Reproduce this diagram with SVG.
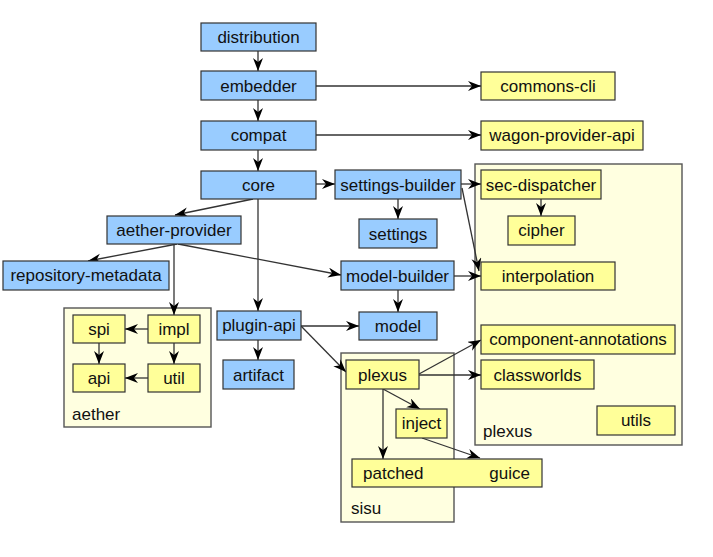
<svg xmlns="http://www.w3.org/2000/svg" width="713" height="557" viewBox="0 0 713 557">
<style>
text{font-family:"Liberation Sans",Arial,sans-serif;font-size:17px;fill:#111}
.c{text-anchor:middle}
.b rect{fill:#99ccff;stroke:#333;stroke-width:1.2}
.y rect{fill:#ffff99;stroke:#333;stroke-width:1.2}
.grp rect{fill:#ffffe0;stroke:#555;stroke-width:1.4}
#edges line{stroke:#333;stroke-width:1.3;marker-end:url(#ah)}
</style>
<defs>
<marker id="ah" markerUnits="userSpaceOnUse" markerWidth="14" markerHeight="11" refX="13" refY="5" orient="auto">
<path d="M0,0 L13,5 L0,10 L4,5 z" fill="#000"/>
</marker>
</defs>
<rect width="713" height="557" fill="#fff"/>
<g id="aether" class="grp"><rect x="64" y="308" width="147" height="119"/><text x="72" y="420">aether</text></g>
<g id="plexus-group" class="grp"><rect x="475" y="164" width="207" height="281"/><text x="483" y="437">plexus</text></g>
<g id="sisu" class="grp"><rect x="341" y="353" width="113" height="169"/><text x="351" y="514">sisu</text></g>
<g id="edges">
<line x1="258" y1="51" x2="258" y2="71"/>
<line x1="258" y1="100" x2="258" y2="121"/>
<line x1="258" y1="150" x2="258" y2="171"/>
<line x1="316" y1="86" x2="481" y2="86"/>
<line x1="316" y1="135" x2="481" y2="135"/>
<line x1="316" y1="184" x2="335" y2="184"/>
<line x1="253" y1="199" x2="175" y2="215"/>
<line x1="258" y1="199" x2="258" y2="311"/>
<line x1="177" y1="244" x2="88" y2="261"/>
<line x1="174" y1="244" x2="174" y2="315"/>
<line x1="178" y1="244" x2="341" y2="275"/>
<line x1="398" y1="199" x2="398" y2="219"/>
<line x1="461" y1="184" x2="481" y2="184"/>
<line x1="462" y1="188" x2="479" y2="271"/>
<line x1="541" y1="199" x2="541" y2="216"/>
<line x1="454" y1="276" x2="481" y2="276"/>
<line x1="398" y1="290" x2="398" y2="312"/>
<line x1="301" y1="326" x2="359" y2="326"/>
<line x1="301" y1="326" x2="346" y2="372"/>
<line x1="258" y1="340" x2="258" y2="360"/>
<line x1="148" y1="329" x2="125" y2="329"/>
<line x1="174" y1="343" x2="174" y2="364"/>
<line x1="99" y1="343" x2="99" y2="364"/>
<line x1="148" y1="378" x2="125" y2="378"/>
<line x1="419" y1="374" x2="481" y2="340"/>
<line x1="419" y1="375" x2="481" y2="375"/>
<line x1="383" y1="389" x2="420" y2="409"/>
<line x1="383" y1="389" x2="383" y2="459"/>
<line x1="422" y1="438" x2="480" y2="458"/>
</g>
<g id="distribution" class="b"><rect x="201" y="23" width="115" height="28"/><text class="c" x="258.5" y="43">distribution</text></g>
<g id="embedder" class="b"><rect x="201" y="71" width="115" height="29"/><text class="c" x="258.5" y="92">embedder</text></g>
<g id="compat" class="b"><rect x="201" y="121" width="115" height="29"/><text class="c" x="258.5" y="141">compat</text></g>
<g id="core" class="b"><rect x="201" y="171" width="115" height="28"/><text class="c" x="258.5" y="191">core</text></g>
<g id="commons-cli" class="y"><rect x="481" y="72" width="134" height="28"/><text class="c" x="548" y="92">commons-cli</text></g>
<g id="wagon-provider-api" class="y"><rect x="481" y="121" width="162" height="29"/><text class="c" x="562" y="141">wagon-provider-api</text></g>
<g id="settings-builder" class="b"><rect x="335" y="170" width="126" height="29"/><text class="c" x="398" y="191">settings-builder</text></g>
<g id="sec-dispatcher" class="y"><rect x="481" y="170" width="120" height="29"/><text class="c" x="541" y="191">sec-dispatcher</text></g>
<g id="cipher" class="y"><rect x="508" y="216" width="67" height="29"/><text class="c" x="541.5" y="236">cipher</text></g>
<g id="settings" class="b"><rect x="359" y="219" width="78" height="29"/><text class="c" x="398" y="240">settings</text></g>
<g id="aether-provider" class="b"><rect x="107" y="216" width="134" height="28"/><text class="c" x="174" y="236">aether-provider</text></g>
<g id="repository-metadata" class="b"><rect x="3" y="261" width="166" height="29"/><text class="c" x="86" y="281">repository-metadata</text></g>
<g id="model-builder" class="b"><rect x="341" y="261" width="113" height="29"/><text class="c" x="397.5" y="282">model-builder</text></g>
<g id="interpolation" class="y"><rect x="481" y="262" width="134" height="28"/><text class="c" x="548" y="282">interpolation</text></g>
<g id="spi" class="y"><rect x="73" y="315" width="52" height="28"/><text class="c" x="99" y="335">spi</text></g>
<g id="impl" class="y"><rect x="148" y="315" width="52" height="28"/><text class="c" x="174" y="335">impl</text></g>
<g id="api" class="y"><rect x="73" y="364" width="52" height="28"/><text class="c" x="99" y="384">api</text></g>
<g id="util" class="y"><rect x="148" y="364" width="52" height="28"/><text class="c" x="174" y="384">util</text></g>
<g id="plugin-api" class="b"><rect x="217" y="311" width="84" height="29"/><text class="c" x="259" y="331">plugin-api</text></g>
<g id="artifact" class="b"><rect x="223" y="360" width="71" height="29"/><text class="c" x="258.5" y="381">artifact</text></g>
<g id="model" class="b"><rect x="359" y="312" width="78" height="28"/><text class="c" x="398" y="332">model</text></g>
<g id="component-annotations" class="y"><rect x="481" y="325" width="194" height="29"/><text class="c" x="578" y="345">component-annotations</text></g>
<g id="classworlds" class="y"><rect x="481" y="360" width="113" height="29"/><text class="c" x="537.5" y="381">classworlds</text></g>
<g id="utils" class="y"><rect x="597" y="406" width="78" height="29"/><text class="c" x="636" y="426">utils</text></g>
<g id="plexus" class="y"><rect x="346" y="360" width="73" height="29"/><text class="c" x="382.5" y="381">plexus</text></g>
<g id="inject" class="y"><rect x="396" y="409" width="51" height="29"/><text class="c" x="421.5" y="429">inject</text></g>
<g id="patched-guice" class="y"><rect x="352" y="459" width="190" height="28"/><text x="363" y="479">patched</text><text x="530" y="479" text-anchor="end">guice</text></g>
</svg>
